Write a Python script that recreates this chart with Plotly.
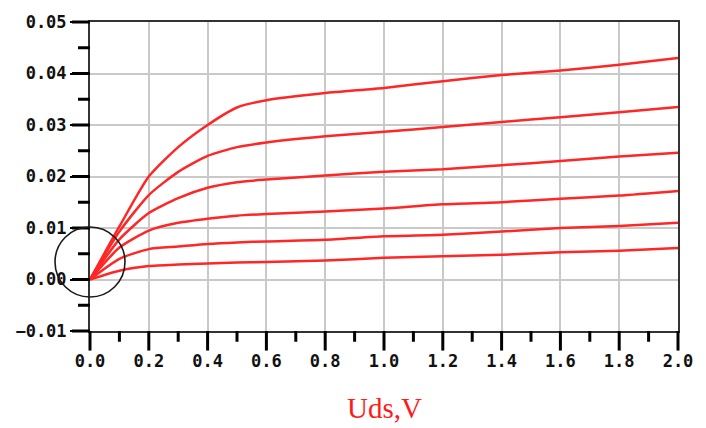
import plotly.graph_objects as go

# Drain voltage samples (V)
uds = [0.0, 0.1, 0.2, 0.3, 0.4, 0.5, 0.6, 0.8, 1.0, 1.2, 1.4, 1.6, 1.8, 2.0]

# Drain current (A) for six gate-voltage steps, top to bottom
id_1 = [0.0, 0.0103, 0.0200, 0.0257, 0.0300, 0.0334, 0.0348, 0.0362, 0.0372, 0.0385, 0.0397, 0.0406, 0.0417, 0.0430]
id_2 = [0.0, 0.0093, 0.0164, 0.0209, 0.0240, 0.0257, 0.0266, 0.0278, 0.0287, 0.0296, 0.0306, 0.0315, 0.0325, 0.0335]
id_3 = [0.0, 0.0078, 0.0129, 0.0158, 0.0178, 0.0189, 0.0194, 0.0202, 0.0209, 0.0214, 0.0222, 0.0230, 0.0239, 0.0246]
id_4 = [0.0, 0.0062, 0.0095, 0.0110, 0.0118, 0.0124, 0.0127, 0.0132, 0.0138, 0.0146, 0.0150, 0.0157, 0.0163, 0.0172]
id_5 = [0.0, 0.0040, 0.0059, 0.0064, 0.0069, 0.0072, 0.0074, 0.0077, 0.0084, 0.0087, 0.0093, 0.0100, 0.0104, 0.0110]
id_6 = [0.0, 0.0017, 0.0026, 0.0029, 0.0031, 0.0033, 0.0034, 0.0037, 0.0042, 0.0045, 0.0048, 0.0053, 0.0056, 0.0061]
curves = [id_1, id_2, id_3, id_4, id_5, id_6]

x_ticks = [0.0, 0.2, 0.4, 0.6, 0.8, 1.0, 1.2, 1.4, 1.6, 1.8, 2.0]
x_minor = [0.1, 0.3, 0.5, 0.7, 0.9, 1.1, 1.3, 1.5, 1.7, 1.9]
y_ticks = [-0.01, 0.0, 0.01, 0.02, 0.03, 0.04, 0.05]
y_minor = [-0.005, 0.005, 0.015, 0.025, 0.035, 0.045]
x_range = [0.0, 2.0]
y_range = [-0.01, 0.05]

# Highlight ring around the origin (data units)
ring_cx, ring_cy = 0.0, 0.0034
ring_rx, ring_ry = 0.119, 0.0068

W, H = 706, 428
M = dict(l=90, r=28, t=15, b=97)
PLOT_W = W - M["l"] - M["r"]
PLOT_H = H - M["t"] - M["b"]

RED = "#ff2626"
FRAME = "#333333"
TICK = "#000000"
GRID = "#c9c9c9"
TICK_FONT = dict(family="DejaVu Sans Mono", size=17, color="#111111", weight="bold")

fig = go.Figure()
for ids in curves:
    fig.add_trace(go.Scatter(
        x=uds, y=ids, mode="lines",
        line=dict(color=RED, width=2.5, shape="spline", smoothing=0.6),
        showlegend=False, hoverinfo="skip",
    ))


def to_paper_x(v):
    return (v - x_range[0]) / (x_range[1] - x_range[0])


def to_paper_y(v):
    return (v - y_range[0]) / (y_range[1] - y_range[0])


# Outward tick marks along the left and bottom axes, drawn as paper-space paths
tick_path = []
for v in x_ticks:
    px = to_paper_x(v)
    tick_path.append((px, 0.0, px, -20 / PLOT_H))
for v in x_minor:
    px = to_paper_x(v)
    tick_path.append((px, 0.0, px, -11 / PLOT_H))
for v in y_ticks:
    py = to_paper_y(v)
    tick_path.append((0.0, py, -18 / PLOT_W, py))
for v in y_minor:
    py = to_paper_y(v)
    tick_path.append((0.0, py, -12 / PLOT_W, py))

for x0, y0, x1, y1 in tick_path:
    fig.add_shape(type="line", xref="paper", yref="paper",
                  x0=x0, y0=y0, x1=x1, y1=y1,
                  line=dict(color=TICK, width=3))

fig.add_shape(
    type="circle", xref="paper", yref="paper",
    x0=to_paper_x(ring_cx - ring_rx), x1=to_paper_x(ring_cx + ring_rx),
    y0=to_paper_y(ring_cy - ring_ry), y1=to_paper_y(ring_cy + ring_ry),
    line=dict(color="#1a1a1a", width=1.6), layer="above",
)

fig.add_annotation(
    text="Uds,V", xref="paper", yref="paper", x=0.5, y=-0.25,
    xanchor="center", yanchor="middle", showarrow=False,
    font=dict(family="Liberation Serif", size=29, color="#ff1a1a"),
)

fig.update_xaxes(
    range=x_range, tickvals=x_ticks, tickformat=".1f",
    showgrid=True, gridcolor=GRID, gridwidth=2, zeroline=False,
    showline=True, linecolor=FRAME, linewidth=2, mirror=True,
    ticks="outside", ticklen=14, tickwidth=2, tickcolor=TICK,
    tickfont=TICK_FONT,
)
fig.update_yaxes(
    range=y_range, tickvals=y_ticks, tickformat=".2f",
    showgrid=True, gridcolor=GRID, gridwidth=2, zeroline=False,
    showline=True, linecolor=FRAME, linewidth=2, mirror=True,
    ticks="outside", ticklen=18, tickwidth=2, tickcolor=TICK,
    tickfont=TICK_FONT,
)

fig.update_layout(
    width=W, height=H,
    margin=M,
    paper_bgcolor="white", plot_bgcolor="white",
)

fig.write_html("out.html")
